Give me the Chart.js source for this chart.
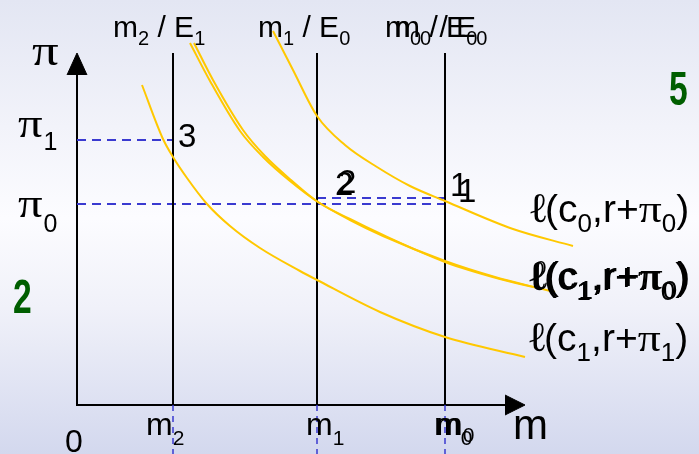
<!DOCTYPE html>
<html><head><meta charset="utf-8">
<script src="https://cdn.jsdelivr.net/npm/chart.js@4.4.0/dist/chart.umd.min.js"></script>
<style>
html,body{margin:0;padding:0;}
body{width:699px;height:454px;overflow:hidden;background:linear-gradient(to bottom,#E3E6F3 0%,#F2F3FA 28%,#FCFCFF 48%,#F0F1F9 68%,#D3D8EE 100%);}
#wrap{position:relative;width:699px;height:454px;}
</style></head><body>
<div id="wrap"><canvas id="c"></canvas></div>
<script>
// ---- data (chart units: origin of the m/π axes at 0,0) ----
const mNames  = ['m2', 'm1', 'm0'];
const mValues = [96, 240, 368];
const piNames  = ['π1', 'π0'];
const piValues = [265, 201];
const piPoint1 = 207;           // second dashed level ending at point 1
const lineTop = 352;            // top of vertical m lines / y arrow tip
const xAxisEnd = 448;           // tip of m arrow

// ℓ(c1, r+π1)
const curveA_x = [65, 86, 96, 110, 130, 153, 183, 223, 240, 303, 368, 448];
const curveA_y = [320, 266, 248, 227, 201, 179, 157, 134, 125, 93, 68, 48];
// ℓ(c1, r+π0) (two overlapped copies)
const curveB1_x = [113, 133, 163, 186, 213, 241, 273, 306, 368, 418, 465];
const curveB1_y = [362, 324, 274, 248, 224, 203, 185, 169, 144, 128, 116];
const curveB2_x = [117, 136, 166, 188, 214, 241, 273, 306, 368, 423, 478];
const curveB2_y = [362, 325, 275, 249, 225, 203, 186, 170, 143, 126, 113];
// ℓ(c0, r+π0)
const curveC_x = [196, 216, 240, 268, 300, 333, 368, 436, 496];
const curveC_y = [374, 335, 289, 260, 238, 219, 204, 176, 159];

const zip = (xs, ys) => xs.map((x, i) => ({x, y: ys[i]}));
const YEL = '#FFC800', BLUE = '#3A3AD0', BLK = '#000000';
const SANS = '"Liberation Sans", Arial, sans-serif';
const SERIF = '"Liberation Serif", "DejaVu Serif", serif';

const ds = [];
function curve(data, w) {
  ds.push({data, showLine: true, pointRadius: 0, borderColor: YEL, borderWidth: w || 2,
    cubicInterpolationMode: 'monotone', fill: false});
}
curve(zip(curveA_x, curveA_y));
curve(zip(curveB1_x, curveB1_y));
curve(zip(curveB2_x, curveB2_y));
curve(zip(curveC_x, curveC_y));

// vertical black lines
mValues.forEach(m => ds.push({data: [{x: m, y: 0}, {x: m, y: lineTop}], showLine: true, pointRadius: 0,
  borderColor: BLK, borderWidth: 2, tension: 0}));
// dashed guides
ds.push({data: [{x: 0, y: piValues[0]}, {x: mValues[0], y: piValues[0]}], showLine: true, pointRadius: 0,
  borderColor: BLUE, borderWidth: 2, borderDash: [9, 6], tension: 0});
ds.push({data: [{x: 0, y: piValues[1]}, {x: mValues[2], y: piValues[1]}], showLine: true, pointRadius: 0,
  borderColor: BLUE, borderWidth: 2, borderDash: [9, 6], tension: 0});
ds.push({data: [{x: mValues[1], y: piPoint1}, {x: mValues[2], y: piPoint1}], showLine: true, pointRadius: 0,
  borderColor: BLUE, borderWidth: 2, borderDash: [9, 6], tension: 0});
mValues.forEach(m => ds.push({data: [{x: m, y: 0}, {x: m, y: -60}], showLine: true, pointRadius: 0,
  borderColor: BLUE, borderWidth: 1.5, borderDash: [6, 5], tension: 0}));
// axes
ds.push({data: [{x: 0, y: lineTop - 22}, {x: 0, y: 0}, {x: xAxisEnd - 20, y: 0}], showLine: true, pointRadius: 0,
  borderColor: BLK, borderWidth: 2, tension: 0});
// arrow heads
ds.push({data: [{x: -10, y: lineTop - 22}, {x: 0, y: lineTop}, {x: 10, y: lineTop - 22}], showLine: true, pointRadius: 0,
  borderColor: BLK, borderWidth: 1, backgroundColor: BLK, fill: 'shape', tension: 0});
ds.push({data: [{x: xAxisEnd - 20, y: 10}, {x: xAxisEnd, y: 0}, {x: xAxisEnd - 20, y: -10}], showLine: true, pointRadius: 0,
  borderColor: BLK, borderWidth: 1, backgroundColor: BLK, fill: 'shape', tension: 0});

function rich(ctx, x, y, parts) {
  let cx = x;
  for (const p of parts) {
    ctx.font = p.f;
    const sx = p.sx || 1;
    const yy = y + (p.dy || 0);
    if (sx !== 1) {
      ctx.save(); ctx.translate(cx, yy); ctx.scale(sx, 1); ctx.fillText(p.t, 0, 0); ctx.restore();
    } else {
      ctx.fillText(p.t, cx, yy);
    }
    cx += ctx.measureText(p.t).width * sx + (p.k || 0);
  }
}

const labels = {
  id: 'labels',
  afterDatasetsDraw(chart) {
    const ctx = chart.ctx, xs = chart.scales.x, ys = chart.scales.y;
    const X = v => xs.getPixelForValue(v), Y = v => ys.getPixelForValue(v);
    ctx.save();
    ctx.fillStyle = '#000';
    ctx.textBaseline = 'alphabetic';
    const M = '30px ' + SANS, S = '20px ' + SANS;
    // top labels
    const top = [['2', '1'], ['1', '0'], ['0', '0'], ['0', '0']];
    const topX = [mValues[0] - 60, mValues[1] - 59, mValues[2] - 60, mValues[2] - 50];
    top.forEach((t, i) => rich(ctx, X(topX[i]), Y(368), [
      {t: 'm', f: M}, {t: t[0], f: S, dy: 8}, {t: ' / ', f: M}, {t: 'E', f: M}, {t: t[1], f: S, dy: 8}]));
    // bottom labels
    const BM = '32px ' + SANS, BS = '21px ' + SANS;
    rich(ctx, X(mValues[0] - 27), Y(-30), [{t: 'm', f: BM}, {t: '2', f: BS, dy: 10}]);
    rich(ctx, X(mValues[1] - 11), Y(-30), [{t: 'm', f: BM}, {t: '1', f: BS, dy: 10}]);
    rich(ctx, X(mValues[2] - 11), Y(-30), [{t: 'm', f: BM}, {t: '0', f: BS, dy: 10}]);
    rich(ctx, X(mValues[2] - 9), Y(-30), [{t: 'm', f: BM}, {t: '0', f: BS, dy: 7}]);
    rich(ctx, X(-12), Y(-47), [{t: '0', f: BM}]);
    rich(ctx, X(xAxisEnd - 12), Y(-34), [{t: 'm', f: '42px ' + SANS}]);
    // π labels
    rich(ctx, X(-45), Y(340), [{t: 'π', f: '44px ' + SERIF, sx: 1.2}]);
    rich(ctx, X(-59), Y(piValues[0] + 3), [{t: 'π', f: '39px ' + SERIF, sx: 1.25, k: 1}, {t: '1', f: '25px ' + SANS, dy: 13}]);
    rich(ctx, X(-59), Y(piValues[1] - 13), [{t: 'π', f: '39px ' + SERIF, sx: 1.25, k: 1}, {t: '0', f: '25px ' + SANS, dy: 15}]);
    // point numbers
    const NF = '33px ' + SANS;
    rich(ctx, X(mValues[0] + 5), Y(258), [{t: '3', f: NF}]);
    rich(ctx, X(mValues[1] + 18), Y(210), [{t: '2', f: NF}]);
    rich(ctx, X(mValues[1] + 21), Y(212), [{t: '2', f: NF}]);
    rich(ctx, X(mValues[2] + 5), Y(209), [{t: '1', f: NF}]);
    rich(ctx, X(mValues[2] + 13), Y(203), [{t: '1', f: NF}]);
    // curve labels
    const LF = '39px ' + SANS, LS = '26px ' + SANS, LL = '42px "DejaVu Serif", serif', LP = '38px ' + SERIF;
    const lab = (x, y, c, p) => rich(ctx, X(x), Y(y), [
      {t: 'ℓ', f: LL, k: -3}, {t: '(c', f: LF}, {t: c, f: LS, dy: 10}, {t: ',r+', f: LF},
      {t: 'π', f: LP, sx: 1.2}, {t: p, f: LS, dy: 10}, {t: ')', f: LF}]);
    lab(451, 183, '0', '0');
    lab(450, 115, '1', '0');
    lab(452, 116, '1', '0');
    lab(450, 54, '1', '1');
    // green slide numbers
    ctx.fillStyle = '#005E00';
    const green = (x, y, t) => { ctx.save(); ctx.translate(X(x), Y(y)); ctx.scale(0.7, 1);
      ctx.font = 'bold 48px ' + SANS; ctx.fillText(t, 0, 0); ctx.restore(); };
    green(592, 300, '5');
    green(-64, 92, '2');
    ctx.restore();
  }
};

new Chart(document.getElementById('c'), {
  type: 'scatter',
  data: {datasets: ds},
  options: {
    responsive: true, maintainAspectRatio: false, animation: false,
    layout: {padding: 0},
    plugins: {legend: {display: false}, tooltip: {enabled: false}},
    scales: {
      x: {type: 'linear', min: -77, max: 622, display: false},
      y: {type: 'linear', min: -49, max: 405, display: false}
    }
  },
  plugins: [labels]
});
</script>
</body></html>
